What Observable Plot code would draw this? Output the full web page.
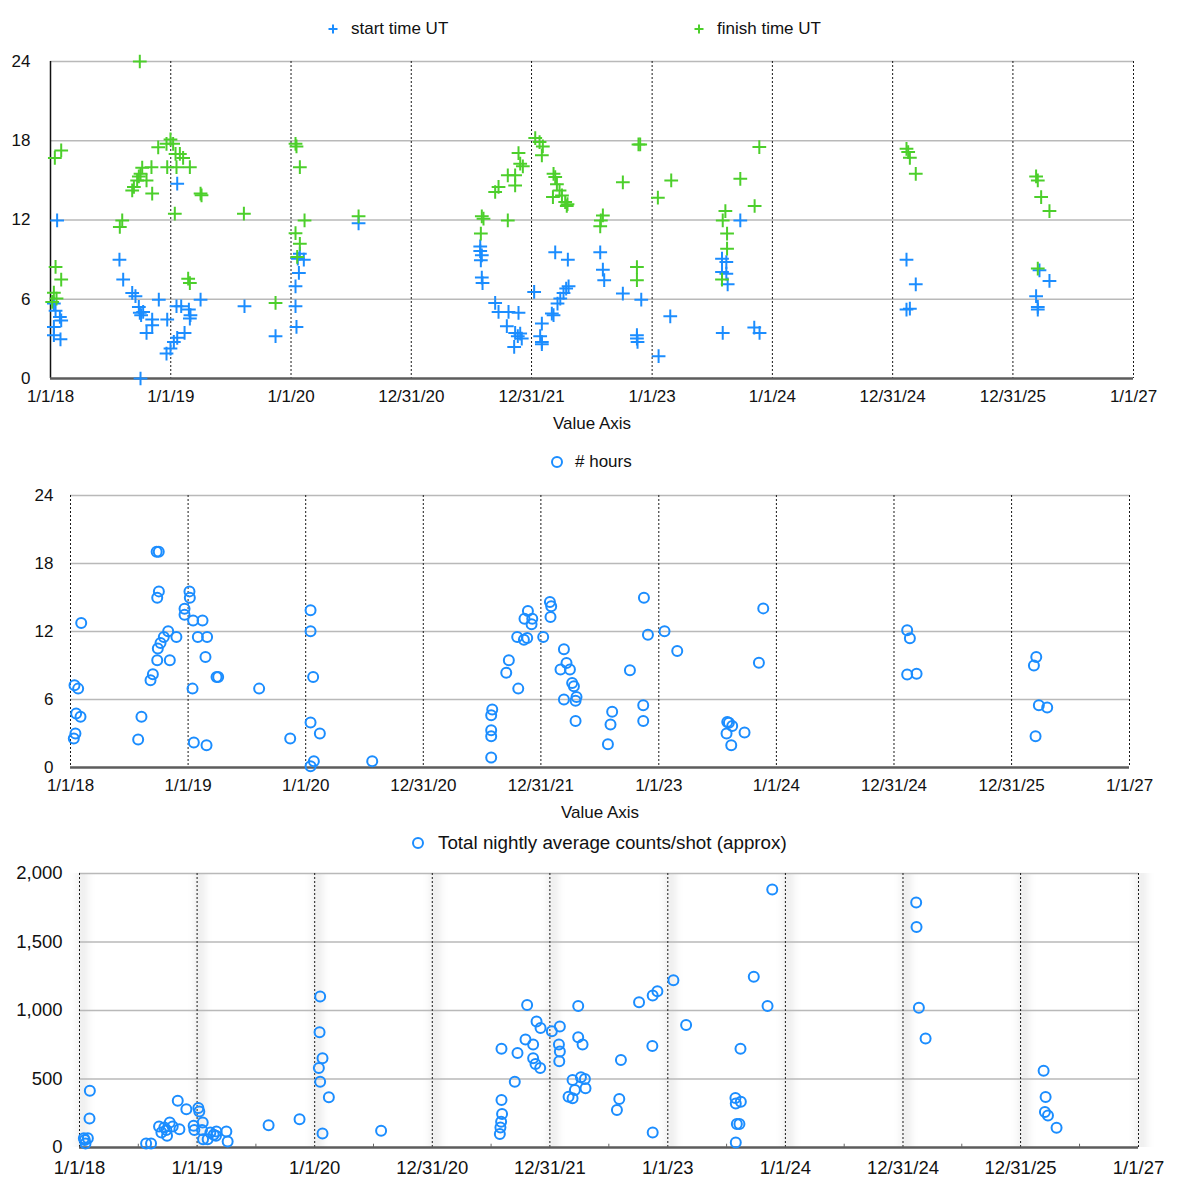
<!DOCTYPE html>
<html>
<head>
<meta charset="utf-8">
<script src="https://cdn.jsdelivr.net/npm/d3@7"></script>
<script src="https://cdn.jsdelivr.net/npm/@observablehq/plot@0.6"></script>
<style>
  body { margin: 0; background: #fff; font-family: "Liberation Sans", Arial, Helvetica, sans-serif; }
  #wrap { position: relative; width: 1200px; height: 1192px; overflow: hidden; background: #fff; }
  .panel { position: absolute; left: 0; }
  .lg-icon { position: absolute; }
  .lg-text { position: absolute; line-height: 22px; color: #111; white-space: nowrap; }
</style>
</head>
<body>
<div id="wrap"></div>
<script>
// Observation nights, as [decimal year, value]
const startTimes = [
  [2018.055,11.97],[2018.028,5.67],[2018.042,5.12],[2018.078,4.66],[2018.089,4.4],[2018.028,3.9],[2018.028,3.28],[2018.083,2.97],
  [2018.573,9.0],[2018.604,7.49],[2018.679,6.48],[2018.706,6.23],[2018.734,5.42],[2018.742,4.97],[2018.753,4.79],[2018.77,5.04],
  [2018.748,0.0],[2018.798,3.45],[2018.845,4.46],[2018.845,4.03],[2018.9,5.97],[2018.97,4.46],[2018.964,1.89],[2018.997,2.27],
  [2019.025,2.77],[2019.053,3.08],[2019.114,3.45],[2019.053,14.75],[2019.047,5.47],[2019.086,5.47],[2019.15,5.22],[2019.158,4.54],
  [2019.163,4.79],[2019.247,5.97],[2019.612,5.47],[2019.87,3.2],
  [2020.036,6.98],[2020.036,5.47],[2020.044,3.9],[2020.064,7.99],[2020.072,9.45],[2020.105,9.0],[2020.055,9.07],[2020.56,11.75],
  [2021.571,10.0],[2021.571,9.65],[2021.584,9.33],[2021.576,8.95],[2021.584,7.64],[2021.59,7.23],[2021.695,5.72],[2021.723,5.04],
  [2021.806,5.04],[2021.889,4.97],[2021.792,3.96],[2021.861,3.45],[2021.903,3.4],[2021.916,3.02],[2021.853,2.39],[2021.883,3.2],
  [2022.019,6.55],[2022.083,4.16],[2022.069,3.2],[2022.083,2.77],[2022.083,2.6],[2022.194,9.55],[2022.299,9.0],[2022.166,4.92],
  [2022.18,4.79],[2022.213,5.67],[2022.236,6.05],[2022.263,6.48],[2022.285,6.81],[2022.305,6.98],[2022.568,9.55],[2022.59,8.24],
  [2022.601,7.44],[2022.756,6.43],[2022.909,5.97],[2022.873,3.28],[2022.873,3.02],[2022.878,2.77],[2023.053,1.69],[2023.15,4.71],
  [2023.58,9.07],[2023.616,8.82],[2023.58,8.07],[2023.616,7.94],[2023.627,7.13],[2023.586,3.45],[2023.732,11.97],[2023.848,3.86],
  [2023.892,3.45],[2025.113,9.0],[2025.19,7.13],[2025.113,5.22],[2025.141,5.29],[2026.218,8.19],[2026.301,7.39],[2026.19,6.23],
  [2026.204,5.42],[2026.204,5.22]
];

const finishTimes = [
  [2018.014,5.8],[2018.028,6.5],[2018.05,6.05],[2018.036,16.7],[2018.089,17.27],[2018.042,8.45],[2018.089,7.49],
  [2018.576,11.47],[2018.596,11.97],[2018.679,14.24],[2018.693,14.5],[2018.72,15.0],[2018.734,15.3],[2018.748,15.5],[2018.742,24.0],
  [2018.762,15.96],[2018.798,15.0],[2018.839,16.0],[2018.845,14.0],[2018.895,17.5],[2018.964,17.77],[2018.97,16.0],[2018.997,18.1],
  [2019.019,17.77],[2019.039,17.0],[2019.047,16.0],[2019.033,12.48],[2019.075,17.0],[2019.102,16.7],[2019.158,16.0],[2019.144,7.56],
  [2019.158,7.23],[2019.247,14.0],[2019.255,13.87],[2019.607,12.48],[2019.87,5.72],
  [2020.036,17.77],[2020.044,17.57],[2020.072,16.0],[2020.111,11.97],[2020.036,11.0],[2020.072,10.2],[2020.05,9.2],[2020.56,12.28],
  [2021.576,10.97],[2021.584,12.28],[2021.598,12.1],[2021.695,14.12],[2021.723,14.5],[2021.8,15.38],[2021.8,11.97],[2021.861,15.38],
  [2021.861,14.62],[2021.889,17.07],[2021.903,16.26],[2021.925,16.06],[2022.028,18.2],[2022.064,17.9],[2022.091,17.57],[2022.083,16.9],
  [2022.175,13.74],[2022.18,15.5],[2022.194,15.25],[2022.208,14.7],[2022.23,14.24],[2022.25,13.86],[2022.277,13.36],[2022.29,13.06],
  [2022.296,13.2],[2022.568,11.52],[2022.573,11.97],[2022.59,12.35],[2022.756,14.85],[2022.873,8.44],[2022.873,7.44],[2022.886,17.72],
  [2022.9,17.72],[2023.047,13.69],[2023.158,15.0],
  [2023.58,7.49],[2023.586,11.97],[2023.608,12.68],[2023.622,10.97],[2023.622,9.83],[2023.732,15.12],[2023.851,13.06],[2023.89,17.52],
  [2025.113,17.39],[2025.127,17.14],[2025.141,16.71],[2025.19,15.5],[2026.19,15.3],[2026.204,15.0],[2026.232,13.74],[2026.301,12.68],
  [2026.204,8.32]
];

const hours = [
  [2018.091,12.75],[2018.034,7.26],[2018.065,6.96],[2018.048,4.76],[2018.085,4.47],[2018.042,3.0],[2018.028,2.56],[2018.575,2.47],
  [2018.603,4.47],[2018.68,7.7],[2018.7,8.23],[2018.732,19.04],[2018.75,19.04],[2018.751,15.54],[2018.737,14.98],[2018.737,9.46],
  [2018.742,10.49],[2018.765,10.99],[2018.793,11.52],[2018.83,12.02],[2018.844,9.46],[2018.9,11.52],[2019.011,15.54],[2019.014,14.98],
  [2018.969,14.01],[2018.969,13.48],[2019.042,12.98],[2019.122,12.98],[2019.082,11.52],[2019.161,11.52],[2019.147,9.75],[2019.241,7.99],
  [2019.255,7.99],[2019.037,6.96],[2019.048,2.2],[2019.156,1.97],[2019.603,6.96],[2019.867,2.56],[2020.04,13.87],[2020.04,12.02],
  [2020.062,7.99],[2020.04,3.97],[2020.119,3.0],[2020.068,0.56],[2020.04,0.12],[2020.564,0.56],
  [2021.575,0.88],[2021.575,2.76],[2021.575,3.29],[2021.575,4.61],[2021.584,5.11],[2021.703,8.37],[2021.725,9.46],[2021.805,6.96],
  [2021.796,11.52],[2021.853,11.28],[2021.881,11.43],[2021.858,13.13],[2021.887,13.81],[2021.924,13.13],[2021.918,12.63],[2022.017,11.52],
  [2022.074,14.6],[2022.085,14.22],[2022.079,13.28],[2022.193,10.43],[2022.215,9.22],[2022.164,8.64],[2022.244,8.64],[2022.263,7.46],
  [2022.278,7.17],[2022.193,5.99],[2022.3,6.23],[2022.292,5.88],[2022.292,4.11],[2022.567,2.06],[2022.589,3.79],[2022.603,4.91],
  [2022.754,8.58],[2022.873,14.98],[2022.907,11.72],[2022.867,5.49],[2022.867,4.11],[2023.048,12.02],[2023.156,10.28],
  [2023.581,4.02],[2023.595,3.95],[2023.623,3.67],[2023.575,3.0],[2023.728,3.08],[2023.615,1.97],[2023.85,9.25],[2023.887,14.04],
  [2025.11,12.1],[2025.133,11.4],[2025.11,8.2],[2025.19,8.28],[2026.207,9.75],[2026.187,8.99],[2026.229,5.49],[2026.3,5.29],
  [2026.201,2.76]
];

const counts = [
  [2018.088,415],[2018.085,212],[2018.071,68],[2018.037,68],[2018.051,29],[2018.045,54],[2018.566,29],[2018.608,29],
  [2018.676,154],[2018.696,110],[2018.721,146],[2018.744,85],[2018.738,127],[2018.767,183],[2018.792,154],[2018.849,134],
  [2018.835,341],[2018.908,280],[2019.01,288],[2019.018,263],[2018.97,159],[2018.976,127],[2019.047,183],[2019.041,127],
  [2019.05,61],[2019.089,61],[2019.112,110],[2019.163,117],[2019.16,85],[2019.14,93],[2019.248,117],[2019.259,44],
  [2019.607,163],[2019.87,207],[2020.045,1102],[2020.04,841],[2020.065,651],[2020.034,580],[2020.045,480],[2020.119,366],
  [2020.065,102],[2020.563,122],
  [2021.572,98],[2021.577,146],[2021.583,188],[2021.591,244],[2021.586,346],[2021.586,720],[2021.699,480],[2021.722,690],
  [2021.79,788],[2021.804,1041],[2021.855,751],[2021.855,651],[2021.875,610],[2021.884,920],[2021.918,873],[2021.915,580],
  [2022.014,849],[2022.082,883],[2022.074,751],[2022.082,700],[2022.077,629],[2022.238,1032],[2022.238,805],[2022.275,751],
  [2022.19,493],[2022.261,512],[2022.295,500],[2022.21,420],[2022.3,432],[2022.156,371],[2022.19,359],[2022.601,639],
  [2022.587,354],[2022.567,273],[2022.755,1061],[2022.871,1110],[2022.911,1141],[2022.868,741],[2022.871,110],[2023.047,1220],
  [2023.155,895],[2023.577,37],[2023.574,361],[2023.577,322],[2023.62,334],[2023.586,171],[2023.608,171],[2023.617,720],
  [2023.73,1246],[2023.847,1032],[2023.887,1883],
  [2025.11,1788],[2025.113,1610],[2025.133,1020],[2025.19,795],[2026.193,561],[2026.21,368],[2026.204,259],[2026.23,234],
  [2026.303,144]
];

// Date axis ticks and value axis ticks
const xTickDates = ["2018-01-01","2019-01-01","2020-01-01","2020-12-31","2021-12-31",
                    "2023-01-01","2024-01-01","2024-12-31","2025-12-31","2027-01-01"];
const hourTicks = [0, 6, 12, 18, 24];
const countTicks = [0, 500, 1000, 1500, 2000];

const BLUE = "#1b8dff";
const GREEN = "#4ccf2b";
const FONT = '"Liberation Sans", Arial, Helvetica, sans-serif';

const ticks = xTickDates.map(s => new Date(s + "T00:00:00Z"));
const fmtDate = d3.utcFormat("%-m/%-d/%y");
const toDate = yr => new Date(Date.UTC(2018, 0, 1) + (yr - 2018) * 365.25 * 864e5);
const rows = arr => arr.map(([yr, v]) => ({date: toDate(yr), value: v}));

const wrap = document.getElementById("wrap");

function panel(opt) {
  const {top, height, mL, mR, mT, mB, yDomain, yTicks, yFormat, yPad, dots, solidLeft, haze, minor, axisTitle, xPad, fs} = opt;
  const marks = [];
  if (haze) {
    // soft shading beside each date gridline (blurred below)
    marks.push(Plot.ruleX(ticks, {stroke: "#000", strokeOpacity: 0.09, strokeWidth: 8, dx: 3}));
  }
  marks.push(Plot.ruleY(yTicks.slice(1), {stroke: "#b9b9b9", strokeWidth: 1.5}));
  marks.push(Plot.ruleX(solidLeft ? ticks.slice(1) : ticks, {stroke: "#1a1a1a", strokeWidth: 1, strokeDasharray: "2,2"}));
  if (solidLeft) marks.push(Plot.ruleX(ticks.slice(0, 1), {stroke: "#111", strokeWidth: 1.5}));
  marks.push(Plot.ruleY([yDomain[0]], {stroke: "#5c5c5c", strokeWidth: 2.5}));
  if (minor) {
    const mids = d3.pairs(ticks, (a, b) => ({x: new Date((+a + +b) / 2), y1: yDomain[0], y2: yDomain[0] + (yDomain[1] - yDomain[0]) * 0.012}));
    marks.push(Plot.ruleX(mids, {x: "x", y1: "y1", y2: "y2", stroke: "#666", strokeWidth: 1}));
  }
  marks.push(Plot.axisX(ticks, {tickFormat: fmtDate, tickSize: 0, tickPadding: xPad, label: null, fontSize: fs}));
  marks.push(Plot.axisY(yTicks, {tickFormat: yFormat, tickSize: 0, tickPadding: yPad, label: null, fontSize: fs}));
  for (const d of dots) marks.push(d);
  if (axisTitle) marks.push(Plot.text([axisTitle], {frameAnchor: "bottom", dy: 50, fontSize: fs, fill: "#111"}));

  const svg = Plot.plot({
    width: 1200, height,
    marginLeft: mL, marginRight: mR, marginTop: mT, marginBottom: mB,
    style: {fontFamily: FONT, fontSize: fs + "px", color: "#111", background: "transparent", overflow: "visible"},
    x: {type: "utc", domain: [ticks[0], ticks[ticks.length - 1]], label: null},
    y: {domain: yDomain, label: null},
    marks
  });
  if (haze) {
    const ns = "http://www.w3.org/2000/svg";
    const defs = document.createElementNS(ns, "defs");
    defs.innerHTML = '<filter id="soft" x="-2" y="-0.1" width="5" height="1.2"><feGaussianBlur stdDeviation="4 0"/></filter>';
    svg.insertBefore(defs, svg.firstChild);
    const g = svg.querySelector('g[aria-label="rule"]');
    if (g) g.setAttribute("filter", "url(#soft)");
  }
  svg.classList.add("panel");
  svg.style.top = top + "px";
  wrap.appendChild(svg);
}

function legendItem(kind, color, cx, cy, text, textX, fs) {
  const ns = "http://www.w3.org/2000/svg";
  const s = document.createElementNS(ns, "svg");
  s.setAttribute("width", 16); s.setAttribute("height", 16);
  s.setAttribute("class", "lg-icon");
  s.style.left = (cx - 8) + "px"; s.style.top = (cy - 8) + "px";
  if (kind === "plus") {
    const p = document.createElementNS(ns, "path");
    p.setAttribute("d", "M3.5,8H12.5M8,3.5V12.5");
    p.setAttribute("stroke", color); p.setAttribute("stroke-width", 2); p.setAttribute("fill", "none");
    s.appendChild(p);
  } else {
    const c = document.createElementNS(ns, "circle");
    c.setAttribute("cx", 8); c.setAttribute("cy", 8); c.setAttribute("r", 5);
    c.setAttribute("stroke", color); c.setAttribute("stroke-width", 2); c.setAttribute("fill", "none");
    s.appendChild(c);
  }
  wrap.appendChild(s);
  const t = document.createElement("div");
  t.className = "lg-text";
  t.textContent = text;
  t.style.fontSize = fs + "px";
  t.style.left = textX + "px"; t.style.top = (cy - 11) + "px";
  wrap.appendChild(t);
}

// Start / finish times (UT hours)
panel({
  top: 45, height: 400, mL: 50, mR: 67, mT: 16, mB: 67, fs: 17,
  yDomain: [0, 24], yTicks: hourTicks, yFormat: d3.format("d"), yPad: 20, xPad: 11,
  solidLeft: true, axisTitle: "Value Axis",
  dots: [
    Plot.dot(rows(startTimes), {x: "date", y: "value", symbol: "plus", r: 4.5, stroke: BLUE, strokeWidth: 2}),
    Plot.dot(rows(finishTimes), {x: "date", y: "value", symbol: "plus", r: 4.5, stroke: GREEN, strokeWidth: 2})
  ]
});
legendItem("plus", BLUE, 333, 29, "start time UT", 351, 17);
legendItem("plus", GREEN, 699, 29, "finish time UT", 717, 17);

// Hours per night
panel({
  top: 480, height: 350, mL: 70, mR: 71, mT: 15, mB: 63, fs: 17,
  yDomain: [0, 24], yTicks: hourTicks, yFormat: d3.format("d"), yPad: 17, xPad: 11,
  solidLeft: false, axisTitle: "Value Axis",
  dots: [
    Plot.dot(rows(hours), {x: "date", y: "value", r: 5, stroke: BLUE, strokeWidth: 2, fill: "none"})
  ]
});
legendItem("circle", BLUE, 557, 462, "# hours", 575, 17);

// Average counts per shot
panel({
  top: 858, height: 334, mL: 79, mR: 62, mT: 15, mB: 45, fs: 18.5,
  yDomain: [0, 2000], yTicks: countTicks, yFormat: d3.format(","), yPad: 17, xPad: 13,
  solidLeft: false, haze: true, minor: true,
  dots: [
    Plot.dot(rows(counts), {x: "date", y: "value", r: 5, stroke: BLUE, strokeWidth: 2, fill: "none"})
  ]
});
legendItem("circle", BLUE, 418, 843, "Total nightly average counts/shot (approx)", 438, 18.8);
</script>
</body>
</html>
